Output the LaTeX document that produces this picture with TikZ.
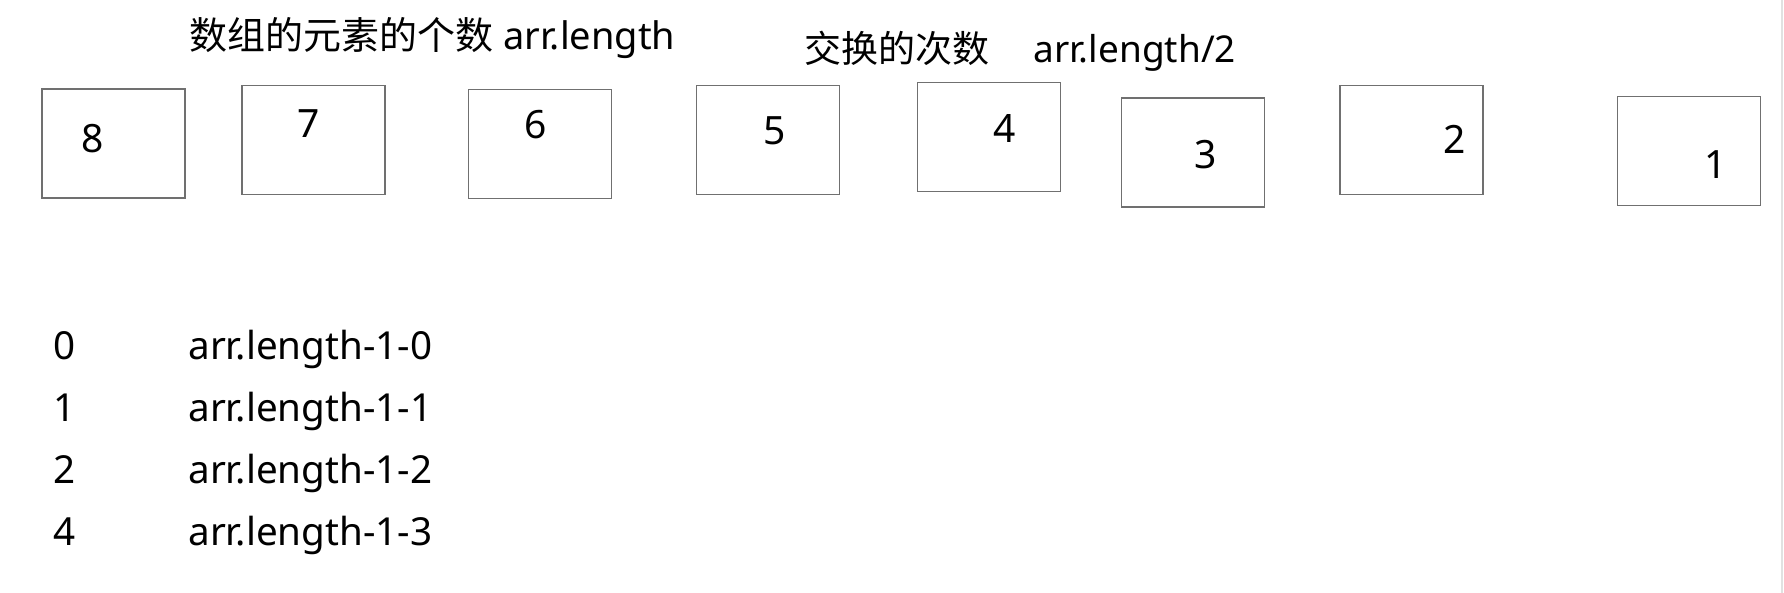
\documentclass[tikz,border=0pt]{standalone}
\usepackage{fontspec}
\setmainfont{Noto Sans}
\newfontfamily\cjk{Noto Sans CJK SC}
\usepackage{xcolor}
\definecolor{boxgray}{RGB}{112,112,112}
\definecolor{edgegray}{RGB}{225,225,225}

\begin{document}
\begin{tikzpicture}[x=0.5pt,y=0.5pt,yscale=-1,xscale=1,
  cell/.style={draw=boxgray, line width=0.75pt, minimum width=71.5pt, minimum height=54.5pt, inner sep=0pt},
  num/.style={font=\fontsize{19.5}{23}\selectfont, inner sep=0pt},
  row/.style={anchor=base west, font=\fontsize{19.3}{23}\selectfont, inner sep=0pt},
  head/.style={anchor=base west, font=\fontsize{18.5}{22}\selectfont, inner sep=0pt}]
\useasboundingbox (0,0) rectangle (1784,593);

% Headings
\node[head, font=\fontsize{19}{22}\selectfont] (count) at (189,50) {{\cjk 数组的元素的个数} arr.length};
\node[head] (swaps) at (804,63) {{\cjk 交换的次数}\hspace{22pt}arr.length/2};

%Shape: Rectangle (array cells)
\node[cell] (b8) at (113.5,143.5) {};
\node[cell] (b7) at (313.5,140) {};
\node[cell] (b6) at (540,144) {};
\node[cell] (b5) at (768,140) {};
\node[cell] (b4) at (989,137) {};
\node[cell] (b3) at (1193,152.5) {};
\node[cell] (b2) at (1411.5,140) {};
\node[cell] (b1) at (1689,151) {};

% Text Node (cell values)
\node[num] (v8) at (93,139) {8};
\node[num] (v7) at (309,124) {7};
\node[num] (v6) at (536,125) {6};
\node[num] (v5) at (775,131) {5};
\node[num] (v4) at (1005,129) {4};
\node[num] (v3) at (1206,155) {3};
\node[num] (v2) at (1455,139) {2};
\node[num] (v1) at (1716,165) {1};

% Text Node (rounds)
\node[row] (i0) at (53,360) {0};
\node[row] (e0) at (188,360) {arr.length-1-0};
\node[row] (i1) at (53,422) {1};
\node[row] (e1) at (188,422) {arr.length-1-1};
\node[row] (i2) at (53,483) {2};
\node[row] (e2) at (188,483) {arr.length-1-2};
\node[row] (i3) at (53,545) {4};
\node[row] (e3) at (188,545) {arr.length-1-3};

%Straight Lines (window edge)
\draw[edgegray, line width=0.75pt] (1782,0) -- (1782,593);
\end{tikzpicture}
\end{document}
